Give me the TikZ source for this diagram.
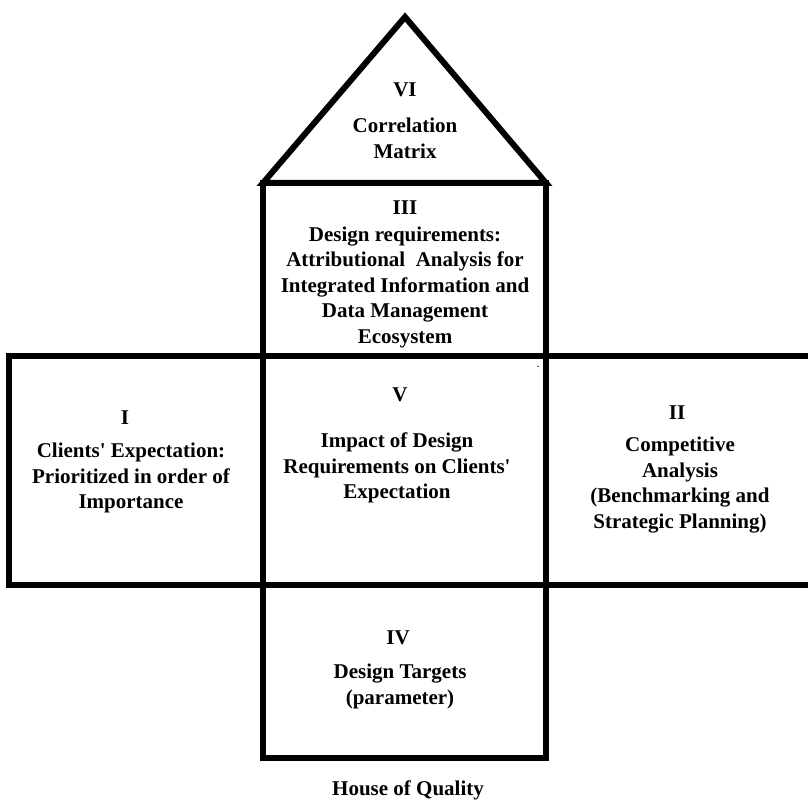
\documentclass[tikz,border=0pt]{standalone}
\usepackage{fontspec}
\setmainfont{Liberation Serif}
\begin{document}
\begin{tikzpicture}[x=1pt,y=-1pt,
  wall/.style={line width=6pt, line join=miter},
  label/.style={font=\fontsize{21}{25.5}\selectfont\bfseries, align=center, inner sep=0pt},
  numeral/.style={font=\fontsize{21}{25.5}\selectfont\bfseries, inner sep=0pt}]
\useasboundingbox (0,0) rectangle (808,802);
\fill[white] (0,0) rectangle (808,802);
% roof
\draw[wall] (263,183) -- (405,17) -- (546,183) -- cycle;
% upper box
\draw[wall] (263,183) rectangle (546,356);
% middle row, open at the right edge
\draw[wall] (808,356) -- (9,356) -- (9,585) -- (808,585);
\draw[wall] (263,356) -- (263,585) (546,356) -- (546,585);
% lower box
\draw[wall] (263,585) rectangle (546,758);

% roof
\node[numeral] (n6) at (405,90) {VI};
\node[label] (t6) at (405,138.5) {Correlation\\Matrix};
% upper box
\node[numeral] (n3) at (405,208) {III};
\node[label] (t3) at (405,287) {Design requirements:\\Attributional\ \ Analysis for\\Integrated Information and\\Data Management\\Ecosystem};
% left box
\node[numeral] (n1) at (125,418) {I};
\node[label] (t1) at (131,478) {Clients\textquotesingle{} Expectation:\\Prioritized in order of\\Importance};
% centre box
\node[numeral] (n5) at (400,395) {V};
\node[label] (t5) at (397,468) {Impact of Design\\Requirements on Clients\textquotesingle\\Expectation};
\node[inner sep=0pt, font=\fontsize{12}{12}\selectfont] (dot) at (538,367) {.};
% right box
\node[numeral] (n2) at (677,413) {II};
\node[label] (t2) at (680,485) {Competitive\\Analysis\\(Benchmarking and\\Strategic Planning)};
% lower box
\node[numeral] (n4) at (398,638) {IV};
\node[label] (t4) at (400,686.5) {Design Targets\\(parameter)};
% caption
\node[numeral] (cap) at (408,790) {House of Quality};
\end{tikzpicture}
\end{document}
